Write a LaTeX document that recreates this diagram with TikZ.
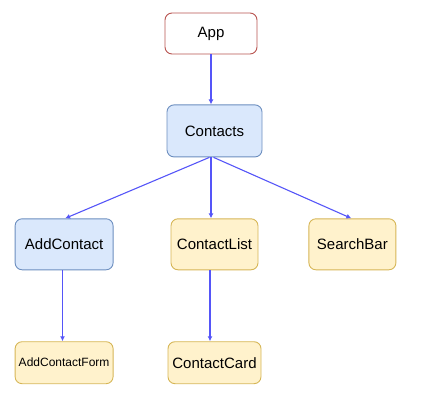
\documentclass[tikz,border=0pt]{standalone}
\usepackage{fontspec}
\setmainfont{Liberation Sans}
\usepackage{tikz}
\usetikzlibrary{arrows.meta,positioning,calc}

\definecolor{appline}{HTML}{B85450}
\definecolor{bluefill}{HTML}{DAE8FC}
\definecolor{blueline}{HTML}{6C8EBF}
\definecolor{yellowfill}{HTML}{FFF2CC}
\definecolor{yellowline}{HTML}{D6B656}
\definecolor{edgeblue}{HTML}{5555F8}

\begin{document}
\begin{tikzpicture}[>={Latex[length=5pt,width=5pt]},
    comp/.style={draw, rounded corners=7pt, align=center, inner sep=0pt, line width=0.9pt,
      font=\fontsize{15}{18}\selectfont},
    bluecomp/.style={comp, fill=bluefill, draw=blueline},
    yellowcomp/.style={comp, fill=yellowfill, draw=yellowline},
    link/.style={->, color=edgeblue, line width=1.1pt}]
    \useasboundingbox (0,0) rectangle (421pt,400pt);
    \node[comp, draw=appline, fill=white, minimum width=92pt, minimum height=41pt] (app) at (211pt,366.5pt) {App};
    \node[bluecomp, minimum width=95pt, minimum height=52pt, below=50pt of app, xshift=3.5pt] (contacts) {Contacts};
    \draw[link] (app) -- (app |- contacts.north);
    \node[yellowcomp, minimum width=87pt, minimum height=51pt, below=61pt of contacts] (list) {ContactList};
    \node[bluecomp, minimum width=98pt, minimum height=51pt, left=57pt of list] (add) {AddContact};
    \node[yellowcomp, minimum width=87pt, minimum height=51pt, right=50pt of list] (search) {SearchBar};
    \draw[link] ([xshift=-5pt]contacts.south) -- ([xshift=1pt]add.north);
    \draw[link] ([xshift=-3.5pt]contacts.south) -- ([xshift=-3.5pt]list.north);
    \draw[link] ([xshift=-1pt]contacts.south) -- ([xshift=-1pt]search.north);
    \node[yellowcomp, minimum width=98pt, minimum height=42pt, below=71pt of add,
      font=\fontsize{12}{14}\selectfont] (form) {AddContactForm};
    \node[yellowcomp, minimum width=93pt, minimum height=42pt, below=71pt of list] (card) {ContactCard};
    \draw[link] ([xshift=-1.6pt]add.south) -- ([xshift=-1.6pt]form.north);
    \draw[link] ([xshift=-4.5pt]list.south) -- ([xshift=-4.5pt]card.north);
\end{tikzpicture}
\end{document}
